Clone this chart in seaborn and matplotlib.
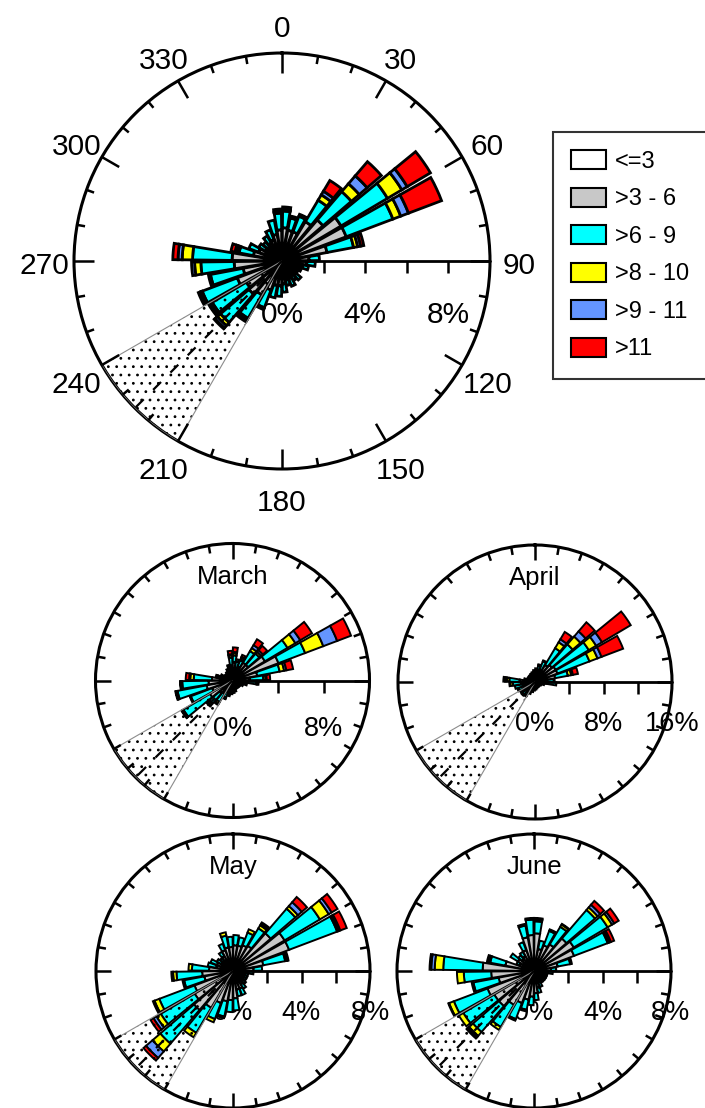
import numpy as np
import matplotlib
matplotlib.use("Agg")
import matplotlib.pyplot as plt
import matplotlib.transforms as mtransforms
from matplotlib.patches import Patch
import seaborn as sns

# Wind direction bins (bin centres, degrees) and wind speed classes
DIRECTIONS = [5, 15, 25, 35, 45, 55, 65, 75, 85, 95,
              105, 115, 125, 135, 145, 155, 165, 175, 185, 195,
              205, 215, 225, 235, 245, 255, 265, 275, 285, 295,
              305, 315, 325, 335, 345, 355]
SPEED_CLASSES = ["<=3", ">3 - 6", ">6 - 9", ">8 - 10", ">9 - 11", ">11"]
CLASS_COLORS = ["#ffffff", "#c8c8c8", "#00ffff", "#ffff00", "#6495ff", "#ff0000"]

# Frequency (%) per direction for each speed class - whole period
MAIN_W = [.5, .5, .5, .6, .6, .7, .7, .6, .5, .5, .5, .4, .4, .4, .4, .4, .4, .5, .5, .5,
          .5, .5, .5, .5, .5, .5, .5, .5, .5, .5, .4, .4, .4, .5, .5, .5]
MAIN_G = [1.1, 1.0, 1.0, 1.6, 2.0, 2.6, 2.6, 1.6, .8, .7, .5, .4, .3, .5, .4, .5, .5, .6, .7, .7,
          1.0, 1.4, 1.6, 1.5, 1.8, 1.4, 1.8, 1.9, .9, .7, .5, .5, .6, .6, .8, 1.0]
MAIN_C = [.8, .6, .8, 1.2, 1.8, 2.6, 2.4, 1.3, .5, .4, .3, .2, .2, .3, .3, .4, .3, .4, .5, .6,
          .9, 1.3, 1.8, 1.9, 1.8, 1.6, 1.6, 1.9, .7, .5, .4, .3, .4, .5, .7, .8]
MAIN_Y = [.05, .05, .05, .3, .5, .8, .4, .2, 0, 0, 0, 0, 0, 0, 0, 0, 0, 0, 0, 0,
          .05, .1, .2, .1, .05, .05, .3, .5, .1, 0, 0, 0, 0, 0, 0, .05]
MAIN_B = [.05, 0, .05, .2, .5, .3, .4, .15, 0, 0, 0, 0, 0, 0, 0, 0, 0, 0, 0, 0,
          0, .05, .15, .05, .05, 0, .15, .2, .1, 0, 0, 0, 0, 0, 0, .05]
MAIN_R = [.1, .05, 0, .6, .9, 1.3, 1.7, .15, 0, 0, 0, 0, 0, 0, 0, 0, 0, 0, 0, 0,
          .05, .05, .05, .05, .1, .05, 0, .25, .2, 0, 0, 0, 0, 0, 0, .1]

# March
MAR_W = [.6, .5, .5, .6, .6, .8, .8, .6, .5, .5, .4, .4, .3, .3, .3, .3, .4, .4, .4, .4,
         .5, .5, .5, .5, .5, .5, .5, .5, .4, .4, .3, .3, .3, .4, .4, .5]
MAR_G = [1.0, .6, .8, 1.2, 1.2, 2.5, 3.5, 1.6, 1.0, .8, .5, .4, .3, .3, .3, .3, .4, .5, .5, .5,
         .6, .8, 1.0, 1.8, 1.4, 1.8, 1.6, 1.3, .5, .4, .3, .3, .4, .4, .5, .8]
MAR_C = [.6, .6, .6, 1.2, 1.3, 2.3, 2.5, 2.0, 1.2, .8, .4, .2, .2, .2, .1, .2, .2, .2, .3, .4,
         .5, .9, 1.2, 2.7, 2.0, 2.6, 2.3, 1.6, .4, .3, .2, .2, .2, .3, .4, .7]
MAR_Y = [.2, .2, .2, .3, .2, .8, 1.7, .4, .2, .1, 0, 0, 0, 0, 0, 0, 0, 0, 0, .1,
         .1, .2, .2, .1, .05, .1, .1, .3, .1, 0, 0, 0, 0, 0, .1, .2]
MAR_B = [.1, 0, .1, .3, .2, .5, 1.3, .2, .1, .1, 0, 0, 0, 0, 0, 0, 0, 0, 0, 0,
         .05, .1, .1, .05, 0, .05, .05, .1, 0, 0, 0, 0, 0, 0, 0, .1]
MAR_R = [.4, 0, .2, .6, .5, 1.2, 1.3, .6, .3, 0, 0, 0, 0, 0, 0, 0, 0, 0, 0, 0,
         0, 0, 0, .05, .05, .05, .05, .3, .1, 0, 0, 0, 0, 0, 0, .3]

# April
APR_W = [.5, .5, .6, .8, .8, .8, .8, .8, .6, .5, .4, .3, .3, .3, .3, .3, .3, .3, .4, .4,
         .4, .5, .5, .5, .5, .5, .6, .6, .4, .4, .3, .3, .3, .4, .4, .4]
APR_G = [.6, .7, .9, 1.5, 1.8, 2.0, 2.0, 1.6, .8, .8, .4, .3, .3, .3, .3, .3, .3, .4, .4, .5,
         .5, .6, .6, .6, .7, .8, 1.0, 1.2, .5, .4, .4, .4, .4, .4, .5, .6]
APR_C = [.5, .8, 1.1, 2.3, 3.2, 4.5, 4.0, 1.5, .8, 1.2, .3, .2, .1, .1, .1, .1, .2, .2, .2, .3,
         .6, .8, .9, .7, .9, 1.1, 1.0, 1.2, .4, .2, .2, .3, .3, .3, .3, .4]
APR_Y = [0, .1, .1, .8, 1.2, 1.0, 1.0, .4, .1, 0, 0, 0, 0, 0, 0, 0, 0, 0, 0, 0,
         0, .1, .1, .1, .1, 0, .3, .3, 0, 0, 0, 0, 0, 0, 0, 0]
APR_B = [0, 0, 0, .4, .8, .8, .5, .2, 0, 0, 0, 0, 0, 0, 0, 0, 0, 0, 0, 0,
         0, 0, 0, 0, 0, 0, .1, .2, 0, 0, 0, 0, 0, 0, 0, 0]
APR_R = [0, 0, 0, 1.0, 1.4, 3.9, 2.7, .6, 0, 0, 0, 0, 0, 0, 0, 0, 0, 0, 0, 0,
         0, 0, 0, 0, 0, 0, 0, .2, 0, 0, 0, 0, 0, 0, 0, 0]

# May
MAY_W = [.4, .4, .4, .4, .5, .5, .5, .5, .4, .4, .3, .3, .3, .3, .4, .4, .4, .4, .4, .4,
         .5, .5, .5, .5, .5, .5, .5, .4, .4, .4, .3, .3, .3, .4, .4, .4]
MAY_G = [1.1, 1.1, 1.2, 1.3, 2.4, 3.0, 3.0, 1.3, .8, .5, .4, .4, .4, .5, .5, .7, .7, 1.2, 1.3, 1.4,
         1.5, 2.0, 2.5, 2.1, 1.9, 1.2, 1.3, 1.0, .6, .6, .5, .5, .7, .9, 1.0, 1.0]
MAY_C = [.6, .5, .8, 1.2, 1.9, 2.4, 3.0, 1.3, .5, .3, .2, .2, .2, .2, .3, .4, .4, .7, .7, .9,
         1.0, 1.7, 2.6, 2.3, 2.2, 1.2, 1.5, 1.0, .5, .4, .3, .2, .3, .4, .7, .6]
MAY_Y = [0, 0, .2, .2, .2, .6, .1, .1, 0, 0, 0, 0, 0, 0, 0, 0, 0, 0, 0, .1,
         .2, .3, .6, .3, .3, .1, .2, .2, 0, 0, 0, 0, 0, 0, .2, 0]
MAY_B = [0, 0, 0, .1, .3, .2, .1, .05, 0, 0, 0, 0, 0, 0, 0, 0, 0, 0, 0, 0,
         0, 0, .5, .2, .1, 0, .1, 0, 0, 0, 0, 0, 0, 0, 0, 0]
MAY_R = [0, 0, 0, .1, .4, .4, .4, .05, 0, 0, 0, 0, 0, 0, 0, 0, 0, 0, 0, 0,
         0, 0, .2, .2, 0, 0, 0, 0, 0, 0, 0, 0, 0, 0, 0, 0]

# June
JUN_W = [.4, .4, .4, .4, .5, .5, .5, .4, .4, .3, .3, .3, .3, .3, .3, .3, .4, .4, .4, .4,
         .4, .5, .5, .5, .5, .5, .5, .5, .4, .4, .4, .3, .3, .4, .4, .4]
JUN_G = [1.8, .9, 1.2, 1.4, 2.0, 2.2, 2.0, 1.0, .6, .5, .3, .3, .3, .3, .3, .4, .6, .9, 1.1, 1.3,
         1.6, 1.8, 2.2, 2.2, 2.4, 1.6, 2.0, 2.5, 1.3, .5, .7, .6, .7, .9, 1.6, 1.7]
JUN_C = [.7, .5, .9, 1.2, 2.2, 2.3, 2.1, .75, .3, .3, .2, .2, .2, .2, .2, .3, .3, .4, .5, .6,
         1.0, 1.5, 2.0, 2.1, 2.1, 1.5, 1.6, 2.3, .9, .2, .5, .3, .3, .5, .7, .9]
JUN_Y = [.1, 0, .1, .15, .2, .3, .1, .05, 0, 0, 0, 0, 0, 0, 0, 0, 0, 0, 0, .1,
         .1, .2, .3, .3, .3, .1, .4, .5, .1, 0, 0, 0, 0, 0, .1, .05]
JUN_B = [.05, 0, 0, .05, .2, .15, .1, .05, 0, 0, 0, 0, 0, 0, 0, 0, 0, 0, 0, 0,
         0, 0, .1, 0, .05, 0, 0, .2, .1, 0, 0, 0, 0, 0, 0, .05]
JUN_R = [.05, 0, 0, 0, .3, .3, .2, 0, 0, 0, 0, 0, 0, 0, 0, 0, 0, 0, 0, 0,
         0, 0, .1, 0, 0, 0, 0, .1, 0, 0, 0, 0, 0, 0, 0, 0]

# Shaded sector (degrees)
SECTOR_CENTER = 225
SECTOR_WIDTH = 30

# Axis labels
MAIN_THETA_LABELS = ["0", "30", "60", "90", "120", "150", "180", "210", "240", "270", "300", "330"]

W, H = 705, 1108

sns.set_theme(style="white", rc={"text.color": "black", "xtick.color": "black",
                                 "axes.edgecolor": "black"})
plt.rcParams["font.family"] = ["Liberation Sans", "DejaVu Sans"]
plt.rcParams["hatch.linewidth"] = 0.8
palette = sns.color_palette(CLASS_COLORS)


def polar_axes(fig, cx, cy, r):
    rect = [(cx - r) / W, 1 - (cy + r) / H, 2 * r / W, 2 * r / H]
    ax = fig.add_axes(rect, projection="polar")
    ax.set_theta_zero_location("N")
    ax.set_theta_direction(-1)
    return ax


def draw_rose(ax, classes, rmax, rpx, rticks, rlabels, label_off, fs,
              major_step, major_px, minor_px, theta_labels=None, bar_lw=1.2):
    theta = np.deg2rad(DIRECTIONS)
    width = np.deg2rad(8.6)
    bottom = np.zeros(len(DIRECTIONS))
    for values, color in zip(classes, palette):
        values = np.asarray(values, dtype=float)
        keep = values > 0
        ax.bar(theta[keep], values[keep], width=width, bottom=bottom[keep],
               color=color, edgecolor="black", linewidth=bar_lw, zorder=3)
        bottom += values

    # stippled sector with dashed centre line
    sec = np.deg2rad(SECTOR_CENTER)
    sw = np.deg2rad(SECTOR_WIDTH)
    ax.bar(sec, rmax, width=sw, bottom=0, facecolor="none", edgecolor="black",
           linewidth=0, hatch="..", zorder=4)
    ax.bar(sec, rmax, width=sw, bottom=0, facecolor="none", edgecolor="0.55",
           linewidth=0.8, zorder=4)
    ax.plot([sec, sec], [0, rmax], color="black", lw=1.6, dashes=(5, 6), zorder=4)

    ax.set_ylim(0, rmax)
    ax.set_yticks([])
    ax.grid(False)
    ax.spines["polar"].set_linewidth(2.2)

    # compass tick marks pointing inward
    for deg in range(0, 360, 10):
        length = major_px if deg % major_step == 0 else minor_px
        a = np.deg2rad(deg)
        ax.plot([a, a], [rmax * (1 - length / rpx), rmax], color="black", lw=1.8,
                solid_capstyle="butt", zorder=5, clip_on=False)

    majors = np.arange(0, 360, 30)
    ax.set_xticks(np.deg2rad(majors))
    if theta_labels is None:
        ax.set_xticklabels([])
    else:
        ax.set_xticklabels(theta_labels)
    ax.tick_params(axis="x", which="major", length=0, pad=14, labelsize=21.5)

    # radial axis towards 90 degrees
    east = np.pi / 2
    ax.plot([east, east], [0, rmax], color="black", lw=2, zorder=5, clip_on=False)
    ax.plot(np.full(len(rticks), east), rticks, ls="none", marker=3,
            ms=minor_px * 1.1, mew=1.8, color="black", zorder=5, clip_on=False)
    for val in rlabels:
        ax.annotate(f"{val:g}%", xy=(east, val), xytext=(0, -label_off),
                    textcoords="offset points", ha="center", va="center",
                    fontsize=fs, zorder=1, annotation_clip=False)


fig = plt.figure(figsize=(W / 100, H / 100), dpi=100)

ax_main = polar_axes(fig, 282, 261, 208)
draw_rose(ax_main, [MAIN_W, MAIN_G, MAIN_C, MAIN_Y, MAIN_B, MAIN_R],
          rmax=10, rpx=208, rticks=[2, 4, 6, 8], rlabels=[0, 4, 8], label_off=39, fs=21.5,
          major_step=30, major_px=20, minor_px=8, theta_labels=MAIN_THETA_LABELS,
          bar_lw=2.0)
# nudge compass labels a little downwards
shift = mtransforms.ScaledTranslation(0, -5 / 100, fig.dpi_scale_trans)
for lab in ax_main.get_xticklabels():
    lab.set_transform(lab.get_transform() + shift)

panels = [
    ("March", (232.5, 680.5), [MAR_W, MAR_G, MAR_C, MAR_Y, MAR_B, MAR_R], 12, [4, 8], [0, 8], 35),
    ("April", (535, 682), [APR_W, APR_G, APR_C, APR_Y, APR_B, APR_R], 16, [4, 8, 12], [0, 8, 16], 30),
    ("May", (233, 971), [MAY_W, MAY_G, MAY_C, MAY_Y, MAY_B, MAY_R], 8, [2, 4, 6], [0, 4, 8], 30),
    ("June", (534, 971), [JUN_W, JUN_G, JUN_C, JUN_Y, JUN_B, JUN_R], 8, [2, 4, 6], [0, 4, 8], 30),
]
for title, (cx, cy), classes, rmax, rticks, rlabels, off in panels:
    ax = polar_axes(fig, cx, cy, 137)
    draw_rose(ax, classes, rmax=rmax, rpx=137, rticks=rticks, rlabels=rlabels,
              label_off=off, fs=19.5, major_step=90, major_px=15, minor_px=8, bar_lw=1.4)
    ax.text(0.5, 0.5 + 104 / 274, title, transform=ax.transAxes, ha="center",
            va="center", fontsize=18.5, zorder=6)

handles = [Patch(facecolor=c, edgecolor="black", linewidth=1.5) for c in palette]
leg = fig.legend(handles, SPEED_CLASSES, loc="upper left",
                 bbox_to_anchor=(553 / W, 1 - 132 / H), frameon=True, fancybox=False,
                 edgecolor="black", fontsize=17, handlelength=1.48, handleheight=0.85,
                 handletextpad=0.38, labelspacing=0.63, borderpad=0.78, borderaxespad=0)
leg.get_frame().set_linewidth(1.5)
leg.get_frame().set_facecolor("white")

fig.savefig("out.png", dpi=100)
